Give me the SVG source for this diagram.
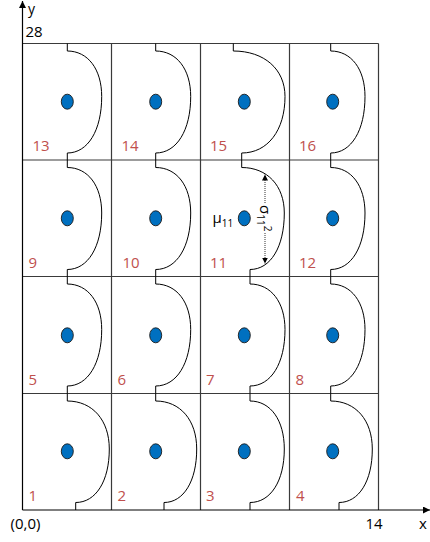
<svg xmlns="http://www.w3.org/2000/svg" width="430" height="542" viewBox="0 0 430 542">
<style>
.grid{stroke:#3a3a3a;stroke-width:1.2;fill:none}
.axis{stroke:#000;stroke-width:1.2;fill:none}
.curve{stroke:#000;stroke-width:1;fill:none}
.dot{fill:#0070C0;stroke:#1a1a1a;stroke-width:0.9}
.lbl{font-family:"Open Sans","Liberation Sans",sans-serif;font-size:15px;fill:#C0504D}
.txt{font-family:"Open Sans","Liberation Sans",sans-serif;font-size:15px;fill:#000}
.dots{stroke:#333;stroke-width:1;stroke-dasharray:1,1;fill:none}
</style>
<defs>
<marker id="ah" viewBox="0 0 10 10" refX="10" refY="5" markerWidth="8" markerHeight="7" markerUnits="userSpaceOnUse" orient="auto">
<path d="M0,0 L10,5 L0,10 Z" fill="#000"/>
</marker>
<marker id="sh" viewBox="0 0 10 10" refX="10" refY="5" markerWidth="6" markerHeight="6" markerUnits="userSpaceOnUse" orient="auto">
<path d="M0,0 L10,5 L0,10 Z" fill="#000"/>
</marker>
</defs>
<rect width="430" height="542" fill="#fff"/>
<g id="grid">
<line class="grid" x1="22.5" y1="43.5" x2="378.5" y2="43.5"/>
<line class="grid" x1="22.5" y1="160" x2="378.5" y2="160"/>
<line class="grid" x1="22.5" y1="276.5" x2="378.5" y2="276.5"/>
<line class="grid" x1="22.5" y1="393.5" x2="378.5" y2="393.5"/>
<line class="grid" x1="111.5" y1="43.5" x2="111.5" y2="510"/>
<line class="grid" x1="200.5" y1="43.5" x2="200.5" y2="510"/>
<line class="grid" x1="289.5" y1="43.5" x2="289.5" y2="510"/>
<line class="grid" x1="378.5" y1="43.5" x2="378.5" y2="510"/>
</g>
<g id="axes">
<line class="axis" x1="22.5" y1="510" x2="22.5" y2="1" marker-end="url(#ah)"/>
<line class="axis" x1="22.5" y1="510" x2="430" y2="510" marker-end="url(#ah)"/>
<text class="txt" x="28" y="14" style="font-size:14px">y</text>
<text class="txt" x="25.5" y="37.3">28</text>
<text class="txt" x="10.5" y="529.3">(0,0)</text>
<text class="txt" x="365.5" y="529.3">14</text>
<text class="txt" x="419" y="529">x</text>
</g>
<g id="cell13"><path class="curve" d="M67.3,43.5 V51 C87.9,51 101.7,69.2 101.7,96.5 C101.7,130.4 87.9,153 67.3,153 V160"/><ellipse class="dot" cx="67.3" cy="101.7" rx="6" ry="7.5"/><text class="lbl" x="32.5" y="151">13</text></g>
<g id="cell14"><path class="curve" d="M155.7,43.5 V51 C176.7,51 190.7,69.2 190.7,96.5 C190.7,130.4 176.7,153 155.7,153 V160"/><ellipse class="dot" cx="155.7" cy="101.7" rx="6" ry="7.5"/><text class="lbl" x="121.5" y="151">14</text></g>
<g id="cell15"><path class="curve" d="M233.3,43.5 V51 C264.3,51 285,69.2 285,96.5 C285,130.4 267.7,153 241.7,153 V160"/><ellipse class="dot" cx="244.3" cy="101.7" rx="6" ry="7.5"/><text class="lbl" x="210" y="151">15</text></g>
<g id="cell16"><path class="curve" d="M330.7,43.5 V51 C351.3,51 365,69.2 365,96.5 C365,130.4 351.3,153 330.7,153 V160"/><ellipse class="dot" cx="332.7" cy="101.7" rx="6" ry="7.5"/><text class="lbl" x="299" y="151">16</text></g>
<g id="cell9"><path class="curve" d="M67.3,160 V167.5 C87.9,167.5 101.7,185.7 101.7,213 C101.7,246.9 87.9,269.5 67.3,269.5 V276.5"/><ellipse class="dot" cx="67.3" cy="218.3" rx="6" ry="7.5"/><text class="lbl" x="28.5" y="267.7">9</text></g>
<g id="cell10"><path class="curve" d="M155.7,160 V167.5 C176.7,167.5 190.7,185.7 190.7,213 C190.7,246.9 176.7,269.5 155.7,269.5 V276.5"/><ellipse class="dot" cx="155.7" cy="218.3" rx="6" ry="7.5"/><text class="lbl" x="122.5" y="267.7">10</text></g>
<g id="cell11"><path class="curve" d="M241.7,160 V167.5 C267.3,167.5 284.3,185.7 284.3,213 C284.3,246.9 270.6,269.5 250,269.5 V276.5"/><ellipse class="dot" cx="244.3" cy="218.3" rx="6" ry="7.5"/><text class="lbl" x="210" y="267.7">11</text>
<text class="txt" x="212.5" y="223">μ<tspan font-size="10" dy="4">11</tspan></text>
<text class="txt" transform="translate(260,205) rotate(90)">σ<tspan font-size="10" dy="3">11</tspan><tspan font-size="10" dy="-7">2</tspan></text></g>
<g id="cell12"><path class="curve" d="M330.7,160 V167.5 C351.3,167.5 365,185.7 365,213 C365,246.9 351.3,269.5 330.7,269.5 V276.5"/><ellipse class="dot" cx="332.7" cy="218.3" rx="6" ry="7.5"/><text class="lbl" x="299" y="267.7">12</text></g>
<g id="cell5"><path class="curve" d="M67.3,276.5 V284 C87.9,284 101.7,302.2 101.7,329.5 C101.7,363.4 87.9,386 67.3,386 V393.5"/><ellipse class="dot" cx="67.3" cy="335.3" rx="6" ry="7.5"/><text class="lbl" x="28.5" y="385">5</text></g>
<g id="cell6"><path class="curve" d="M155.7,276.5 V284 C176.7,284 190.7,302.2 190.7,329.5 C190.7,363.4 176.7,386 155.7,386 V393.5"/><ellipse class="dot" cx="155.7" cy="335.3" rx="6" ry="7.5"/><text class="lbl" x="117.5" y="385">6</text></g>
<g id="cell7"><path class="curve" d="M250,276.5 V284 C271,284 285,302.2 285,329.5 C285,363.4 271,386 250,386 V393.5"/><ellipse class="dot" cx="244.3" cy="335.3" rx="6" ry="7.5"/><text class="lbl" x="206" y="385">7</text></g>
<g id="cell8"><path class="curve" d="M330.7,276.5 V284 C351.3,284 365,302.2 365,329.5 C365,363.4 351.3,386 330.7,386 V393.5"/><ellipse class="dot" cx="332.7" cy="335.3" rx="6" ry="7.5"/><text class="lbl" x="295.5" y="385">8</text></g>
<g id="cell1"><path class="curve" d="M67.3,393.5 V401 C92.5,401 109.3,420.2 109.3,449 C109.3,481.1 95.9,502.5 75.7,502.5 V510"/><ellipse class="dot" cx="67.3" cy="451.3" rx="6" ry="7.5"/><text class="lbl" x="28.5" y="500.7">1</text></g>
<g id="cell2"><path class="curve" d="M155.7,393.5 V401 C180.3,401 196.7,420.2 196.7,449 C196.7,481.1 183.6,502.5 164,502.5 V510"/><ellipse class="dot" cx="155.7" cy="451.3" rx="6" ry="7.5"/><text class="lbl" x="117.5" y="500.7">2</text></g>
<g id="cell3"><path class="curve" d="M250,393.5 V401 C270.6,401 284.3,420.2 284.3,449 C284.3,481.1 270.6,502.5 250,502.5 V510"/><ellipse class="dot" cx="244.3" cy="451.3" rx="6" ry="7.5"/><text class="lbl" x="206" y="500.7">3</text></g>
<g id="cell4"><path class="curve" d="M330.7,393.5 V401 C355.7,401 372.3,420.2 372.3,449 C372.3,481.1 359,502.5 339,502.5 V510"/><ellipse class="dot" cx="332.7" cy="451.3" rx="6" ry="7.5"/><text class="lbl" x="296" y="500.7">4</text></g>
<g id="connectors">
<line class="dots" x1="265" y1="203" x2="265" y2="174.5" marker-end="url(#sh)"/>
<line class="dots" x1="265" y1="233" x2="265" y2="263.5" marker-end="url(#sh)"/>
</g>
</svg>
